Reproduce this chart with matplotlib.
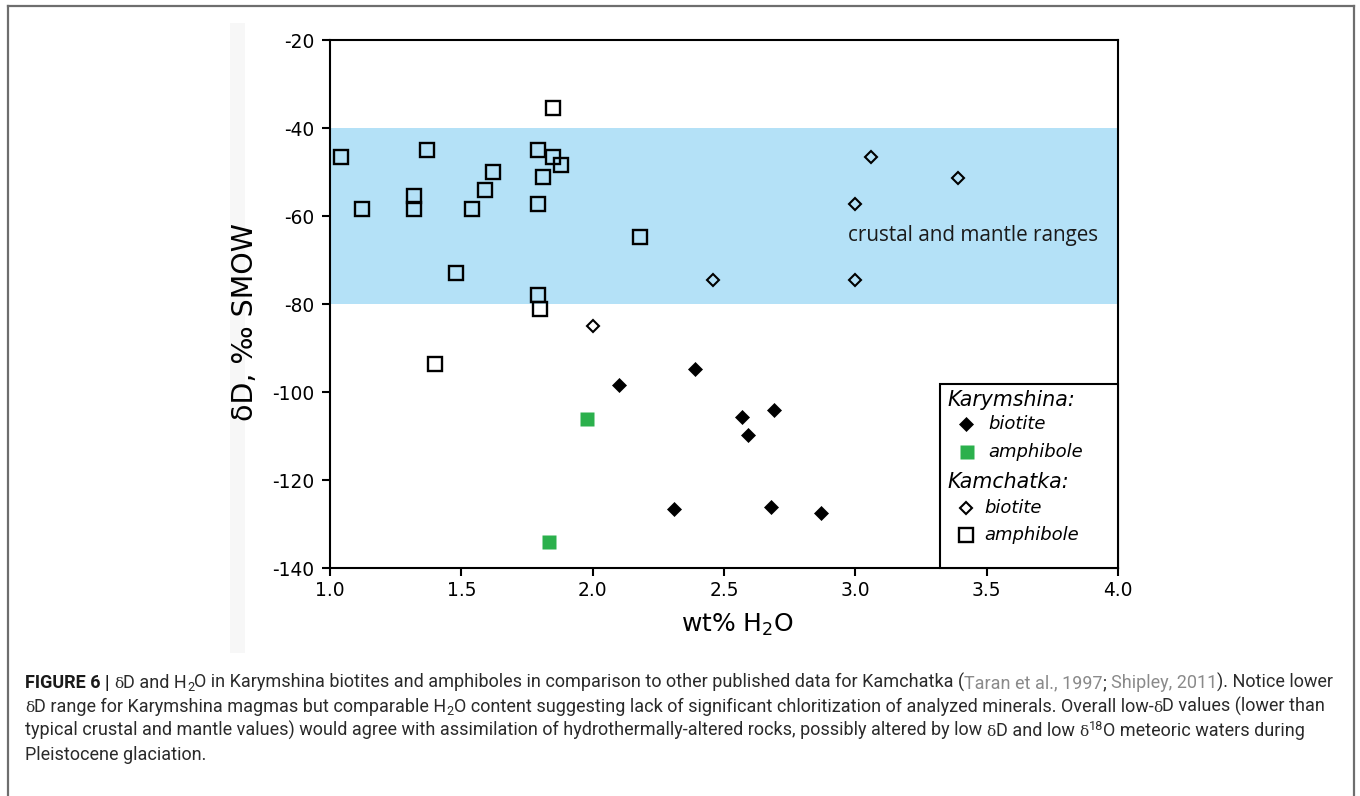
import matplotlib
matplotlib.use("Agg")
import matplotlib.pyplot as plt
from matplotlib.patches import Rectangle
from matplotlib.lines import Line2D

# ---------------- data ----------------
# Kamchatka amphibole (open squares)
kam_amph_x = [1.04, 1.12, 1.37, 1.32, 1.32, 1.54, 1.59, 1.62, 1.48, 1.79, 1.79, 1.81, 1.85, 1.88, 1.85, 1.79, 1.80, 2.18, 1.40]
kam_amph_y = [-46.7, -58.3, -45.0, -55.5, -58.3, -58.3, -54.2, -49.9, -72.9, -45.0, -57.3, -51.2, -46.7, -48.3, -35.4, -78.0, -81.2, -64.8, -93.6]
# Kamchatka biotite (open diamonds)
kam_bio_x = [3.06, 3.39, 3.00, 2.46, 3.00, 2.00]
kam_bio_y = [-46.7, -51.4, -57.3, -74.5, -74.5, -85.1]
# Karymshina biotite (filled diamonds)
kar_bio_x = [2.10, 2.39, 2.57, 2.69, 2.59, 2.31, 2.68, 2.87]
kar_bio_y = [-98.3, -94.7, -105.6, -104.1, -109.8, -126.7, -126.1, -127.6]
# Karymshina amphibole (green squares)
kar_amph_x = [1.98, 1.835]
kar_amph_y = [-106.1, -134.2]

band_range = (-80, -40)
x_ticks = [1.0, 1.5, 2.0, 2.5, 3.0, 3.5, 4.0]
y_ticks = [-140, -120, -100, -80, -60, -40, -20]

GREEN = '#2bb04c'
BAND = '#b4e1f7'

fig = plt.figure(figsize=(13.6, 7.96), dpi=100)
W, H = 1360, 796

# outer frame (top, left, right)
frame_col = '#6e6e6e'
fig.add_artist(Line2D([8/W, 8/W], [0, 1-6/H], transform=fig.transFigure, color=frame_col, lw=1.6))
fig.add_artist(Line2D([1354/W, 1354/W], [0, 1-6/H], transform=fig.transFigure, color=frame_col, lw=1.6))
fig.add_artist(Line2D([8/W, 1354/W], [1-6/H, 1-6/H], transform=fig.transFigure, color=frame_col, lw=1.6))
# faint grey strip left of the plot
fig.add_artist(Rectangle((230/W, 1-653/H), 15/W, (653-23)/H, transform=fig.transFigure,
                         facecolor='#f7f7f7', edgecolor='none', zorder=0))

ax = fig.add_axes([330/W, 1-568/H, (1118-330)/W, (568-40)/H])
ax.set_xlim(1.0, 4.0)
ax.set_ylim(-140, -20)
ax.axhspan(band_range[0], band_range[1], color=BAND, lw=0, zorder=0)

ax.plot(kam_amph_x, kam_amph_y, ls='none', marker='s', ms=9.5, mfc='none', mec='black', mew=1.7, zorder=3)
ax.plot(kam_bio_x, kam_bio_y, ls='none', marker='D', ms=6.2, mfc='none', mec='black', mew=1.5, zorder=3)
ax.plot(kar_bio_x, kar_bio_y, ls='none', marker='D', ms=7.3, mfc='black', mec='black', mew=0.5, zorder=3)
ax.plot(kar_amph_x, kar_amph_y, ls='none', marker='s', ms=10, mfc=GREEN, mec='none', zorder=3)

ax.text(2.972, -64.5, 'crustal and mantle ranges', fontsize=14.9, family='Open Sans',
        va='center', ha='left', color='#1a1a1a')

for s in ax.spines.values():
    s.set_linewidth(1.5)
ax.set_xticks(x_ticks)
ax.set_yticks(y_ticks)
ax.set_xticklabels([f'{v:.1f}' for v in x_ticks])
ax.set_yticklabels([str(v) for v in y_ticks])
ax.tick_params(direction='out', length=6, width=1.5, labelsize=13.4, pad=3)
ax.tick_params(axis='y', pad=5)
for lab in ax.get_xticklabels() + ax.get_yticklabels():
    lab.set_family('DejaVu Sans')

ax.set_ylabel('δD, ‰ SMOW', fontsize=20.5, family='DejaVu Sans')
ax.yaxis.set_label_coords((259-330)/788, (568-322)/528)
ax.set_xlabel(r'wt% H$\mathregular{_2}$O', fontsize=18, family='DejaVu Sans')
ax.xaxis.set_label_coords((738-330)/788, (568-612)/528)

# legend box
def ay(py):
    return (568-py)/528
def axx(px):
    return (px-330)/788
ax.add_patch(Rectangle((axx(940), 0), 1-axx(940), ay(384), transform=ax.transAxes,
                       facecolor='white', edgecolor='black', lw=1.5, zorder=4, clip_on=False))
lf = dict(family='DejaVu Sans', style='italic', va='center', ha='left', transform=ax.transAxes, zorder=5)
ax.text(axx(947), ay(400), 'Karymshina:', fontsize=14.8, **lf)
ax.text(axx(947), ay(482), 'Kamchatka:', fontsize=14.8, **lf)
ax.text(axx(988), ay(424), 'biotite', fontsize=13, **lf)
ax.text(axx(988), ay(452), 'amphibole', fontsize=13, **lf)
ax.text(axx(984), ay(508), 'biotite', fontsize=13, **lf)
ax.text(axx(984), ay(535), 'amphibole', fontsize=13, **lf)
lm = dict(transform=ax.transAxes, ls='none', zorder=5, clip_on=False)
ax.add_line(Line2D([axx(966)], [ay(424)], marker='D', ms=7.3, mfc='black', mec='black', mew=0.5, **lm))
ax.add_line(Line2D([axx(967)], [ay(452)], marker='s', ms=10, mfc=GREEN, mec='none', **lm))
ax.add_line(Line2D([axx(966)], [ay(508)], marker='D', ms=6.2, mfc='none', mec='black', mew=1.5, **lm))
ax.add_line(Line2D([axx(966)], [ay(535)], marker='s', ms=9.5, mfc='none', mec='black', mew=1.7, **lm))

# ---------------- caption ----------------
cap_lines = [
    [('FIGURE 6 |', 'b'), (' ', 'n'), ('δ', 'd'), ('D and H', 'n'), ('2', 'sub'), ('O in Karymshina biotites and amphiboles in comparison to other published data for Kamchatka (', 'n'),
     ('Taran et al., 1997', 'g'), ('; ', 'n'), ('Shipley, 2011', 'g'), ('). Notice lower', 'n')],
    [('δ', 'd'), ('D range for Karymshina magmas but comparable H', 'n'), ('2', 'sub'),
     ('O content suggesting lack of significant chloritization of analyzed minerals. Overall low-', 'n'), ('δ', 'd'), ('D values (lower than', 'n')],
    [('typical crustal and mantle values) would agree with assimilation of hydrothermally-altered rocks, possibly altered by low ', 'n'),
     ('δ', 'd'), ('D and low ', 'n'), ('δ', 'd'), ('18', 'sup'), ('O meteoric waters during', 'n')],
    [('Pleistocene glaciation.', 'n')],
]
cap_y = [683, 707, 731, 755]
TXT = '#2a2a2a'
renderer = fig.canvas.get_renderer()


def draw_line(line, py, fs, draw=True):
    x = 25.0
    made = []
    for txt, st in line:
        kw = dict(fontsize=fs, family='Roboto', color=TXT, va='baseline', ha='left')
        yy = py + 5
        if st == 'b':
            kw['weight'] = 'bold'
            kw['color'] = '#1a1a1a'
        elif st == 'g':
            kw['color'] = '#8a8a8a'
        elif st == 'd':
            kw['family'] = 'DejaVu Serif'
            kw['fontsize'] = fs * 0.85
        elif st == 'sub':
            kw['fontsize'] = fs * 0.7
            yy = py + 8
        elif st == 'sup':
            kw['fontsize'] = fs * 0.7
            yy = py - 1
        t = fig.text(x / W, 1 - yy / H, txt, **kw)
        x += t.get_window_extent(renderer).width
        made.append(t)
    if not draw:
        for t in made:
            t.remove()
    return x - 25.0


base = 12.0
w0 = draw_line(cap_lines[0], cap_y[0], base, draw=False)
CAP_FS = base * (1331 - 25) / w0
for line, py in zip(cap_lines, cap_y):
    draw_line(line, py, CAP_FS)

fig.savefig('out.png', dpi=100)
